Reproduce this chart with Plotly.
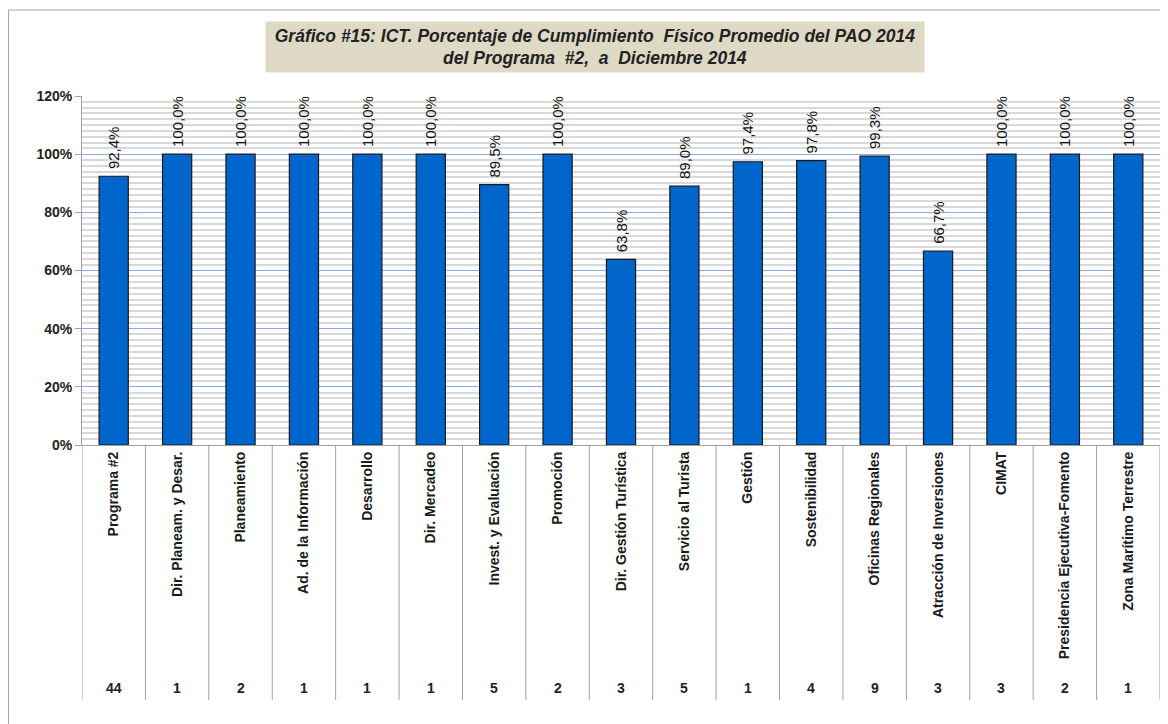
import plotly.graph_objects as go

PLOT_FONT = "Liberation Sans, Arial, sans-serif"

categories = [
    "Programa #2", "Dir. Planeam. y Desar.", "Planeamiento", "Ad. de la Información",
    "Desarrollo", "Dir. Mercadeo", "Invest. y Evaluación", "Promoción",
    "Dir. Gestión Turística", "Servicio al Turista", "Gestión", "Sostenibilidad",
    "Oficinas Regionales", "Atracción de Inversiones", "CIMAT",
    "Presidencia Ejecutiva-Fomento", "Zona Marítimo Terrestre",
]
cumplimiento = [92.4, 100.0, 100.0, 100.0, 100.0, 100.0, 89.5, 100.0,
                63.8, 89.0, 97.4, 97.8, 99.3, 66.7, 100.0, 100.0, 100.0]
metas = [44, 1, 2, 1, 1, 1, 5, 2, 3, 5, 1, 4, 9, 3, 3, 2, 1]

# leading no-break space gives the rotated labels a little gap above the bar
labels = ["\u00a0" + f"{v:.1f}%".replace(".", ",") for v in cumplimiento]
x_idx = list(range(len(categories)))

# plot box in figure pixels (page is offset 8px by body margin)
L, R, T, B = 74, 16, 88, 287
W, H = 1168, 724
plot_w, plot_h = W - L - R, H - T - B


def px_x(fx):
    return (fx - L) / plot_w


def px_y(fy):
    return (H - B - fy) / plot_h


fig = go.Figure()
fig.add_trace(go.Bar(
    x=x_idx,
    y=cumplimiento,
    width=0.46,
    marker=dict(color="#0066CC", line=dict(color="#1a1a1a", width=1.2)),
    text=labels,
    textposition="outside",
    textangle=-90,
    constraintext="none",
    textfont=dict(family=PLOT_FONT, size=15, color="#111111"),
    cliponaxis=False,
    hoverinfo="skip",
))

# table-like separators below the category axis
for i in range(len(categories) + 1):
    fig.add_shape(type="line", xref="x", yref="paper",
                  x0=i - 0.5, x1=i - 0.5, y0=0, y1=px_y(692),
                  line=dict(color="#A0A0A0", width=1))

# counts row
for i, n in enumerate(metas):
    fig.add_annotation(x=i, y=px_y(680), xref="x", yref="paper", yanchor="middle",
                       text=f"<b>{n}</b>", showarrow=False,
                       font=dict(family=PLOT_FONT, size=14, color="#222222"))

# outer frame (top and left edges visible)
fig.add_shape(type="line", xref="paper", yref="paper",
              x0=px_x(0.5), x1=px_x(W), y0=px_y(2), y1=px_y(2),
              line=dict(color="#A6A6A6", width=1))
fig.add_shape(type="line", xref="paper", yref="paper",
              x0=px_x(0.5), x1=px_x(0.5), y0=px_y(2), y1=px_y(H),
              line=dict(color="#A6A6A6", width=1))

fig.add_annotation(
    x=px_x(587), y=px_y(39), xref="paper", yref="paper",
    xanchor="center", yanchor="middle",
    text="<b><i>Gráfico #15: ICT. Porcentaje de Cumplimiento  Físico Promedio del PAO 2014"
         "<br>del Programa  #2,  a  Diciembre 2014</i></b>",
    showarrow=False, bgcolor="#DDD9C4", width=656, height=48,
    font=dict(family=PLOT_FONT, size=17.5, color="#222222"),
)

fig.update_layout(
    width=W, height=H,
    margin=dict(l=L, r=R, t=T, b=B),
    paper_bgcolor="white", plot_bgcolor="white",
    showlegend=False,
)
fig.update_xaxes(
    tickmode="array", tickvals=x_idx, ticktext=[f"<b>{c}</b>" for c in categories],
    tickangle=-90, range=[-0.5, len(categories) - 0.5],
    tickfont=dict(family=PLOT_FONT, size=14, color="#1a1a1a"),
    showline=True, linecolor="#A0A0A0", linewidth=1,
    showgrid=False, ticks="", automargin=False,
)
fig.update_yaxes(
    range=[0, 120], dtick=20, ticksuffix="%", tickprefix="<b>",
    tickfont=dict(family=PLOT_FONT, size=14, color="#222222"),
    showline=True, linecolor="#A0A0A0", linewidth=1,
    ticks="outside", ticklen=6, tickcolor="#A0A0A0",
    showgrid=True, gridcolor="#8EA9DB", gridwidth=1,
    minor=dict(dtick=2, showgrid=True, gridcolor="#D9D9D9", gridwidth=2),
    zeroline=False, automargin=False,
)

fig.write_html("out.html")
